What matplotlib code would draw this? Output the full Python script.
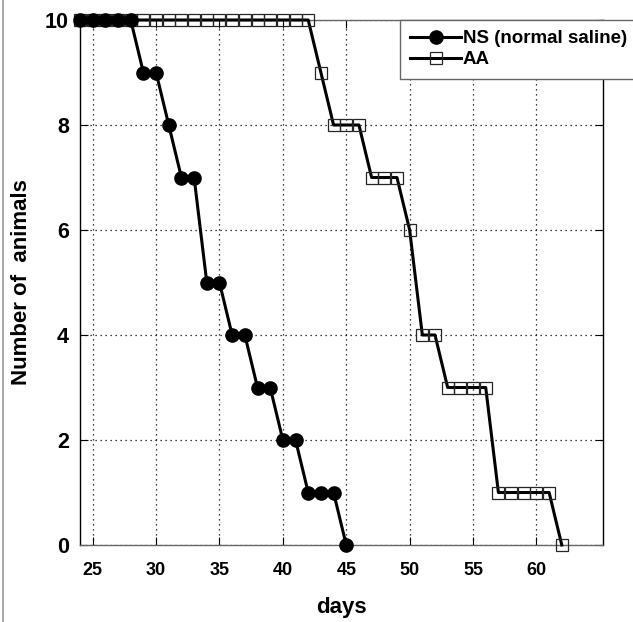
import matplotlib.pyplot as plt
from matplotlib.lines import Line2D

plt.rcParams["font.family"] = ["Liberation Sans", "DejaVu Sans"]
plt.rcParams["font.weight"] = "bold"

# survival counts per day
ns_days = list(range(24, 46))
ns_count = [10, 10, 10, 10, 10, 9, 9, 8, 7, 7, 5, 5, 4, 4, 3, 3, 2, 2, 1, 1, 1, 0]

aa_days = list(range(24, 63))
aa_count = [10] * 19 + [9, 8, 8, 8, 7, 7, 7, 6, 4, 4, 3, 3, 3, 3, 1, 1, 1, 1, 1, 0]

x_ticks = [25, 30, 35, 40, 45, 50, 55, 60]
y_ticks = [0, 2, 4, 6, 8, 10]

W, H = 633, 622
fig = plt.figure(figsize=(W / 100, H / 100), dpi=100)
ax = fig.add_axes([80 / W, 77 / H, 523 / W, 525 / H])

ax.plot(aa_days, aa_count, "-", color="black", linewidth=2.2, marker="s",
        markersize=8, markerfacecolor="none", markeredgecolor="0.15",
        markeredgewidth=0.9, clip_on=False, zorder=3, label="AA")
ax.plot(ns_days, ns_count, "-", color="black", linewidth=2.2, marker="o",
        markersize=9.5, markerfacecolor="black", markeredgecolor="black",
        clip_on=False, zorder=4, label="NS (normal saline)")

ax.set_xlim(24, 65.25)
ax.set_ylim(0, 10)
ax.set_xticks(x_ticks)
ax.set_yticks(y_ticks)
ax.tick_params(axis="x", labelsize=13, direction="in", length=6, pad=12,
               top=True)
ax.tick_params(axis="y", labelsize=15.5, direction="in", length=6, pad=8,
               right=True)
ax.grid(True, linestyle=(0, (1, 3)), color="black", linewidth=0.9)

for side in ["left", "right"]:
    ax.spines[side].set_color("black")
for side in ["top", "bottom"]:
    ax.spines[side].set_color("0.4")
for s in ax.spines.values():
    s.set_linewidth(1.0)

ax.set_xlabel("days", fontsize=16, fontweight="bold", labelpad=13)
ax.set_ylabel("Number of  animals", fontsize=16, fontweight="bold", labelpad=9)

h, l = ax.get_legend_handles_labels()
leg = fig.legend(h[::-1], l[::-1], loc="upper left",
                 bbox_to_anchor=(400 / W, 1 - 20 / H), borderaxespad=0,
                 fontsize=13.5, fancybox=False, handlelength=2.7,
                 handletextpad=0.1, labelspacing=0.2, borderpad=0.55,
                 framealpha=1, edgecolor="0.4")
leg.get_frame().set_linewidth(1.0)

# thin frame line at the left edge of the image
fig.add_artist(Line2D([3 / W, 3 / W], [0, 1], color="0.6", linewidth=1.2))

fig.savefig("out.png", dpi=100)
